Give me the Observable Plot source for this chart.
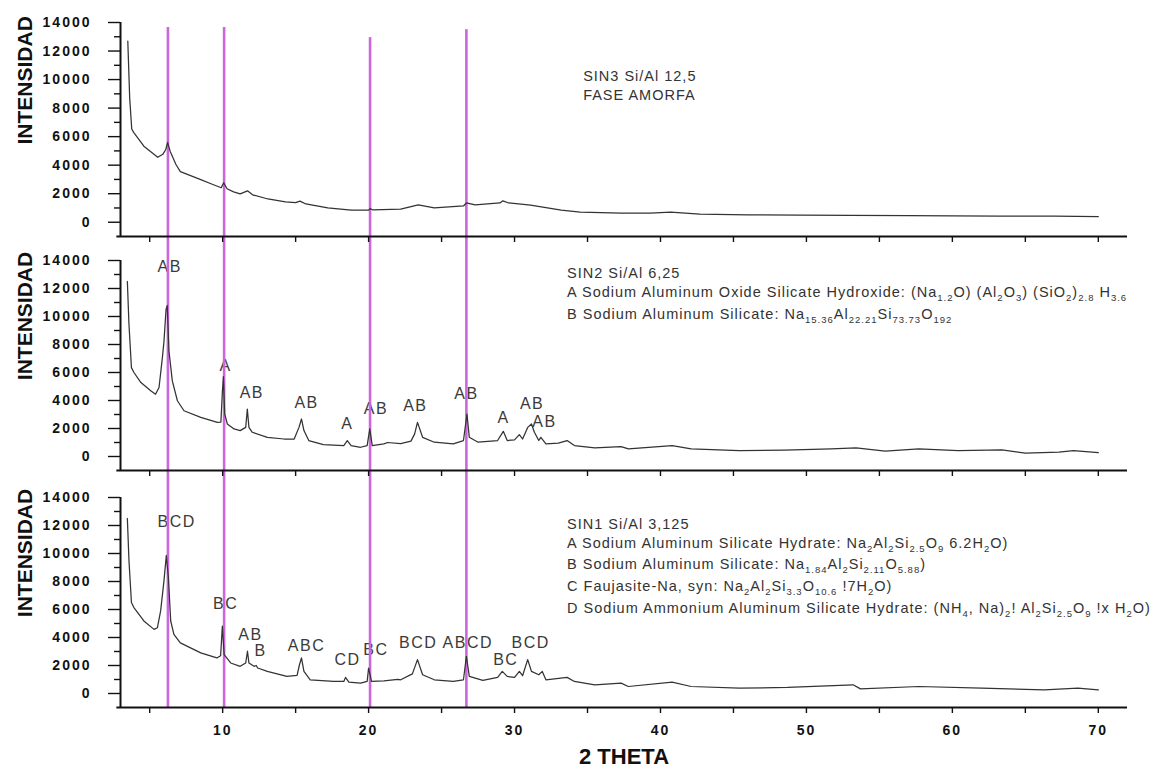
<!DOCTYPE html>
<html>
<head>
<meta charset="utf-8">
<script src="https://cdn.jsdelivr.net/npm/d3@7"></script>
<script src="https://cdn.jsdelivr.net/npm/@observablehq/plot@0.6"></script>
<style>
  body { margin: 0; background: #fff; }
  #chart { width: 1155px; }
  #chart svg { display: block; }
  g[aria-label="y-axis tick label"] text, g[aria-label="x-axis tick label"] text { letter-spacing: 2px; }
  .peaklab text { letter-spacing: 1.5px; }
  .note text { letter-spacing: 1px; }
</style>
</head>
<body>
<div id="chart"></div>
<script>
// ---- data (2θ, intensity) ----
const sin3 = [[3.5,12700],[3.63,8700],[3.77,6540],[3.9,6300],[4.6,5330],[5.55,4550],[5.9,4760],[6.1,5100],[6.23,5600],[6.4,4980],[6.8,4050],[7.1,3550],[7.8,3270],[8.5,2990],[9.2,2700],[9.9,2420],[10.07,2770],[10.3,2350],[10.75,2130],[11.2,1990],[11.7,2200],[12.05,1920],[13.1,1630],[14.3,1420],[15.0,1380],[15.3,1480],[15.7,1280],[17.2,1000],[18.8,850],[20.0,850],[20.1,950],[20.3,860],[22.2,920],[23.4,1210],[24.5,1000],[26.5,1140],[26.7,1350],[27.3,1210],[29.0,1350],[29.2,1500],[29.6,1350],[31.1,1200],[33.2,850],[34.5,710],[37.3,640],[39.3,640],[40.7,710],[42.7,570],[46,520],[49.6,500],[53,480],[57,460],[60,450],[63.3,430],[67,420],[70,400]];
const sin2 = [[3.47,12500],[3.58,9450],[3.75,6350],[3.92,6000],[4.4,5280],[5.07,4690],[5.4,4450],[5.64,4930],[5.87,7060],[5.98,8240],[6.12,10500],[6.2,10800],[6.32,7530],[6.55,5400],[6.9,3980],[7.35,3270],[8.5,2800],[9.64,2440],[9.88,2460],[9.98,4600],[10.05,5700],[10.14,3050],[10.32,2320],[10.78,1970],[11.2,1850],[11.58,2080],[11.69,3390],[11.8,2080],[12.03,1730],[13.06,1370],[14.2,1250],[14.9,1250],[15.23,2080],[15.4,2680],[15.57,1850],[15.9,1140],[16.9,850],[18.3,780],[18.54,1140],[18.8,780],[19.45,660],[19.9,780],[20.08,1970],[20.25,780],[21.05,900],[21.3,1000],[22.2,920],[22.9,1100],[23.15,1600],[23.35,2440],[23.7,1370],[24.5,1020],[25.8,900],[26.5,1140],[26.74,3030],[26.9,1370],[27.5,1020],[28.84,1140],[29.23,1800],[29.5,1140],[30.0,1190],[30.33,1560],[30.55,1250],[30.9,2080],[31.16,2320],[31.36,1730],[31.66,1140],[31.8,1370],[32.15,900],[33.0,950],[33.6,1140],[34.1,780],[35.5,610],[37.3,710],[37.8,540],[40.8,780],[42.1,540],[45.4,420],[48.5,450],[51.7,540],[53.4,610],[55.4,380],[57.7,540],[60.4,420],[63.4,470],[65,240],[67.3,310],[68.3,420],[70,280]];
const sin1 = [[3.47,12500],[3.58,9500],[3.75,6500],[3.92,6140],[4.6,5180],[5.3,4580],[5.53,4700],[5.75,5900],[5.98,8060],[6.14,9860],[6.28,8300],[6.44,5180],[6.66,4220],[7.1,3620],[8.5,2900],[9.6,2540],[9.86,2700],[9.98,4820],[10.1,2780],[10.55,2180],[11.2,1940],[11.58,2180],[11.7,3020],[11.8,2180],[12.15,1940],[12.3,2000],[12.4,1820],[13.06,1580],[14.4,1220],[15.1,1300],[15.25,2000],[15.4,2540],[15.57,1580],[16.0,980],[17.6,860],[18.3,860],[18.42,1150],[18.65,820],[19.45,740],[19.9,860],[20.0,1820],[20.2,860],[21.05,900],[22.0,1010],[22.2,980],[23.0,1400],[23.35,2420],[23.7,1340],[24.5,980],[25.8,860],[26.5,980],[26.7,2660],[26.9,1220],[27.83,940],[28.84,1150],[29.16,1580],[29.5,1220],[30.0,1150],[30.33,1580],[30.55,1270],[30.9,2420],[31.16,1580],[31.66,1340],[31.9,1580],[32.15,980],[33.6,1150],[34.1,860],[35.5,620],[37.3,740],[37.8,500],[40.8,810],[42.1,500],[45.4,380],[48.7,430],[53.2,620],[53.7,330],[57.7,500],[62,380],[66.3,260],[68.6,380],[70,260]];

// reference lines (2θ) and where they start in the top panel
const refLines = [6.25, 10.1, 20.1, 26.7];
const refTops = [13650, 13650, 12940, 13500];

// peak labels
const peakLabels3 = [];
const peakX3 = [];
const peakY3 = [];
const peakLabels2 = ["AB","A","AB","AB","A","AB","AB","AB","A","AB","AB"];
const peakX2 = [6.37,10.2,12.0,15.75,18.55,20.5,23.2,26.7,29.25,31.2,32.05];
const peakY2 = [13570,6470,4570,3840,2320,3390,3620,4450,2790,3740,2440];
const peakLabels1 = ["BCD","BC","AB","B","ABC","CD","BC","BCD","ABCD","BC","BCD"];
const peakX1 = [6.85,10.2,11.9,12.6,15.75,18.55,20.5,23.4,26.8,29.4,31.1];
const peakY1 = [12250,6380,4220,3020,3380,2420,3140,3620,3620,2420,3620];

// panel notes
const notes3 = ["SIN3 Si/Al 12,5", "FASE AMORFA"];
const noteY3 = [10230, 8900];
const notes2 = ["SIN2 Si/Al 6,25",
  "A Sodium Aluminum Oxide Silicate Hydroxide: (Na_{1.2}O) (Al_{2}O_{3}) (SiO_{2})_{2.8} H_{3.6}",
  "B Sodium Aluminum Silicate: Na_{15.36}Al_{22.21}Si_{73.73}O_{192}"];
const noteY2 = [13050, 11730, 10150];
const notes1 = ["SIN1 Si/Al 3,125",
  "A Sodium Aluminum Silicate Hydrate: Na_{2}Al_{2}Si_{2.5}O_{9} 6.2H_{2}O)",
  "B Sodium Aluminum Silicate: Na_{1.84}Al_{2}Si_{2.11}O_{5.88})",
  "C Faujasite-Na, syn: Na_{2}Al_{2}Si_{3.3}O_{10.6} !7H_{2}O)",
  "D Sodium Ammonium Aluminum Silicate Hydrate: (NH_{4}, Na)_{2}! Al_{2}Si_{2.5}O_{9} !x H_{2}O)"];
const noteY1 = [12090, 10750, 9210, 7630, 6080];

// axes
const yTicks = [0, 2000, 4000, 6000, 8000, 10000, 12000, 14000];
const yMinorTicks = [1000, 3000, 5000, 7000, 9000, 11000, 13000];
const xTicks = [5, 10, 15, 20, 25, 30, 35, 40, 45, 50, 55, 60, 65, 70];
const xTickLabels = [10, 20, 30, 40, 50, 60, 70];

const FONT = "'Liberation Sans', Arial, sans-serif";

function subscripts(svg) {
  svg.querySelectorAll("text").forEach(t => {
    const s = t.textContent;
    if (!s.includes("_{")) return;
    const parts = [];
    const re = /_\{([^}]*)\}/g;
    let last = 0, m;
    while ((m = re.exec(s))) {
      parts.push([s.slice(last, m.index), false]);
      parts.push([m[1], true]);
      last = re.lastIndex;
    }
    parts.push([s.slice(last), false]);
    while (t.firstChild) t.removeChild(t.firstChild);
    let down = false;
    for (const [txt, sub] of parts) {
      if (!txt) continue;
      const ts = document.createElementNS("http://www.w3.org/2000/svg", "tspan");
      ts.textContent = txt;
      if (sub) {
        ts.setAttribute("font-size", "9.5");
        if (!down) { ts.setAttribute("dy", "4"); down = true; }
      } else if (down) {
        ts.setAttribute("dy", "-4"); down = false;
      }
      t.appendChild(ts);
    }
  });
}

function panel(cfg) {
  const marks = [
    Plot.text(cfg.labels, {x: (d, i) => cfg.labelX[i], y: (d, i) => cfg.labelY[i], text: d => d,
      fontSize: 16, fill: "#3a3a3a", className: "peaklab"}),
    Plot.ruleX(refLines, {x: d => d, y1: (d, i) => cfg.ruleTop[i], y2: () => cfg.ruleBottom,
      stroke: "#cc66dd", strokeWidth: 2.6}),
    Plot.ruleX([3], {stroke: "#111", strokeWidth: 2}),
    Plot.ruleY([-1000], {x1: 2.75, x2: 72, stroke: "#111", strokeWidth: 2}),
    Plot.axisY({ticks: yMinorTicks, tickSize: 6, tickFormat: () => "", label: null, stroke: "#111", strokeWidth: 1.4}),
    Plot.axisY({ticks: yTicks, tickSize: 12, tickPadding: 17, tickFormat: "d", label: null,
      fontSize: 14, fontWeight: "bold", stroke: "#111", strokeWidth: 1.4, fill: "#111"}),
    Plot.axisX({ticks: xTicks, tickSize: 6, tickPadding: 12, label: null,
      tickFormat: d => (cfg.showX && xTickLabels.includes(d)) ? String(d) : "",
      fontSize: 14, fontWeight: "bold", stroke: "#111", strokeWidth: 1.4, fill: "#111"}),
    Plot.line(cfg.data, {x: d => d[0], y: d => d[1], stroke: "#333", strokeWidth: 1.25}),
    Plot.text(cfg.notes, {x: () => cfg.noteX, y: (d, i) => cfg.noteY[i], text: d => d,
      textAnchor: "start", fontSize: 14.5, fill: "#333", className: "note"}),
    Plot.text(["INTENSIDAD"], {frameAnchor: "left", y: () => 5450, text: d => d, rotate: -90,
      dx: -95, fontSize: 21, fontWeight: "bold", fill: "#111"})
  ];
  if (cfg.showX) {
    marks.push(Plot.text(["2 THETA"], {frameAnchor: "bottom", dy: 56, text: d => d,
      fontSize: 22, fontWeight: "bold", fill: "#111"}));
  }
  const svg = Plot.plot({
    width: 1155,
    height: cfg.height,
    marginTop: cfg.marginTop,
    marginBottom: cfg.marginBottom,
    marginLeft: 120,
    marginRight: 28,
    style: {fontFamily: FONT, background: "transparent", color: "#111"},
    x: {domain: [3, 72]},
    y: {domain: [-1000, 14000]},
    marks
  });
  subscripts(svg);
  return svg;
}

const chart = document.getElementById("chart");
chart.appendChild(panel({data: sin3, labels: peakLabels3, labelX: peakX3, labelY: peakY3,
  notes: notes3, noteX: 34.7, noteY: noteY3, ruleTop: refTops, ruleBottom: -2500,
  height: 248, marginTop: 22, marginBottom: 12, showX: false}));
chart.appendChild(panel({data: sin2, labels: peakLabels2, labelX: peakX2, labelY: peakY2,
  notes: notes2, noteX: 33.6, noteY: noteY2, ruleTop: refLines.map(() => 16000), ruleBottom: -2500,
  height: 236, marginTop: 12, marginBottom: 14, showX: false}));
chart.appendChild(panel({data: sin1, labels: peakLabels1, labelX: peakX1, labelY: peakY1,
  notes: notes1, noteX: 33.6, noteY: noteY1, ruleTop: refLines.map(() => 16000), ruleBottom: -1000,
  height: 288, marginTop: 13, marginBottom: 65, showX: true}));
</script>
</body>
</html>
